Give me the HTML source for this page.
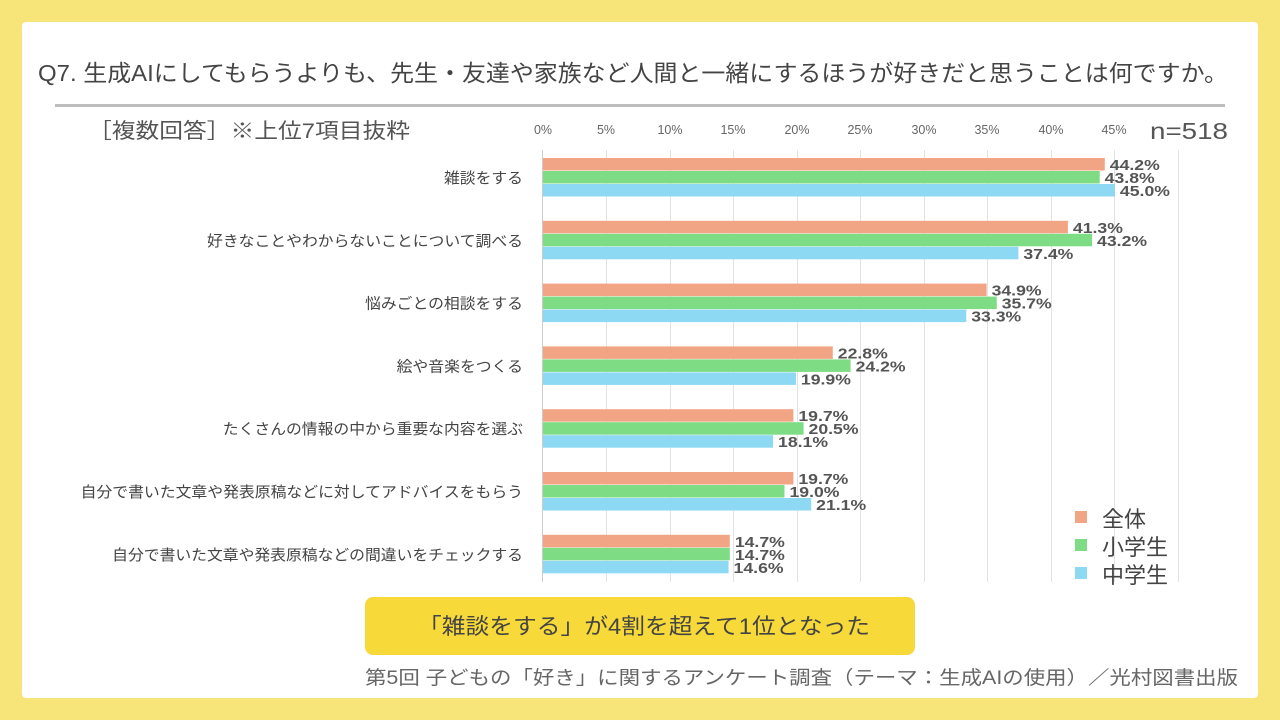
<!DOCTYPE html>
<html><head><meta charset="utf-8"><style>
body{margin:0;width:1280px;height:720px;background:#f7e57a;overflow:hidden;font-family:"Liberation Sans","Noto Sans CJK JP",sans-serif}
</style></head><body>
<svg width="1280" height="720" xmlns="http://www.w3.org/2000/svg" style="position:absolute;left:0;top:0;font-family:'Liberation Sans','Noto Sans CJK JP',sans-serif">
<rect x="22" y="22" width="1236" height="676" rx="4" fill="#fff"/>
<text x="38" y="81" font-size="23" fill="#444" textLength="1190" lengthAdjust="spacingAndGlyphs">Q7. 生成AIにしてもらうよりも、先生・友達や家族など人間と一緒にするほうが好きだと思うことは何ですか。</text>
<rect x="55" y="104" width="1170" height="3" fill="#bdbdbd"/>
<text x="88" y="138" font-size="21" fill="#555" textLength="322" lengthAdjust="spacingAndGlyphs">［複数回答］※上位7項目抜粋</text>
<text x="1228" y="139" font-size="23" fill="#555" text-anchor="end" textLength="78" lengthAdjust="spacingAndGlyphs">n=518</text>
<g font-size="12.5" fill="#666" text-anchor="middle">
<text x="543" y="134">0%</text><text x="606" y="134">5%</text><text x="670" y="134">10%</text><text x="733" y="134">15%</text><text x="797" y="134">20%</text><text x="860" y="134">25%</text><text x="924" y="134">30%</text><text x="987" y="134">35%</text><text x="1051" y="134">40%</text><text x="1114" y="134">45%</text>
</g>
<g stroke="#e3e3e3" stroke-width="1">
<line x1="606.5" y1="150" x2="606.5" y2="582"/><line x1="670.5" y1="150" x2="670.5" y2="582"/><line x1="733.5" y1="150" x2="733.5" y2="582"/><line x1="797.5" y1="150" x2="797.5" y2="582"/><line x1="860.5" y1="150" x2="860.5" y2="582"/><line x1="924.5" y1="150" x2="924.5" y2="582"/><line x1="987.5" y1="150" x2="987.5" y2="582"/><line x1="1051.5" y1="150" x2="1051.5" y2="582"/><line x1="1114.5" y1="150" x2="1114.5" y2="582"/><line x1="1178.5" y1="150" x2="1178.5" y2="582"/>
</g>
<line x1="542.5" y1="150" x2="542.5" y2="582" stroke="#ccc"/>
<g id="bars"></g>
<g font-size="22" fill="#444">
<rect x="1075" y="511" width="12" height="12" fill="#f2a584"/><text x="1102" y="527">全体</text>
<rect x="1075" y="539" width="12" height="12" fill="#7ddc84"/><text x="1102" y="555">小学生</text>
<rect x="1075" y="567" width="12" height="12" fill="#8dd8f2"/><text x="1102" y="583">中学生</text>
</g>
<rect x="365" y="597" width="550" height="58" rx="8" fill="#f7da3a"/>
<text x="644" y="634" font-size="22" fill="#444" text-anchor="middle" textLength="452" lengthAdjust="spacingAndGlyphs">「雑談をする」が4割を超えて1位となった</text>
<text x="1238" y="684" font-size="19" fill="#666" text-anchor="end" textLength="873" lengthAdjust="spacingAndGlyphs">第5回 子どもの「好き」に関するアンケート調査（テーマ：生成AIの使用）／光村図書出版</text>
</svg>
<script>
var d=[["雑談をする",44.2,43.8,45.0],["好きなことやわからないことについて調べる",41.3,43.2,37.4],["悩みごとの相談をする",34.9,35.7,33.3],["絵や音楽をつくる",22.8,24.2,19.9],["たくさんの情報の中から重要な内容を選ぶ",19.7,20.5,18.1],["自分で書いた文章や発表原稿などに対してアドバイスをもらう",19.7,19.0,21.1],["自分で書いた文章や発表原稿などの間違いをチェックする",14.7,14.7,14.6]];
var c=["#f2a584","#7ddc84","#8dd8f2"],s="";
d.forEach(function(r,i){var y=158+i*62.8;
var tl=r[0].length*15.8;
s+='<text x="523" y="'+(y+25)+'" font-size="15" fill="#444" text-anchor="end" textLength="'+tl+'" lengthAdjust="spacingAndGlyphs">'+r[0]+'</text>';
for(var k=0;k<3;k++){var w=r[k+1]*12.71,yy=y+k*13;
s+='<rect x="543" y="'+yy+'" width="'+w+'" height="12.5" fill="'+c[k]+'"/>';
s+='<text x="'+(543+w+5)+'" y="'+(yy+12)+'" font-size="14.5" font-weight="bold" fill="#555" textLength="50" lengthAdjust="spacingAndGlyphs">'+r[k+1].toFixed(1)+'%</text>';}
});
document.getElementById("bars").innerHTML=s;
</script>
</body></html>
